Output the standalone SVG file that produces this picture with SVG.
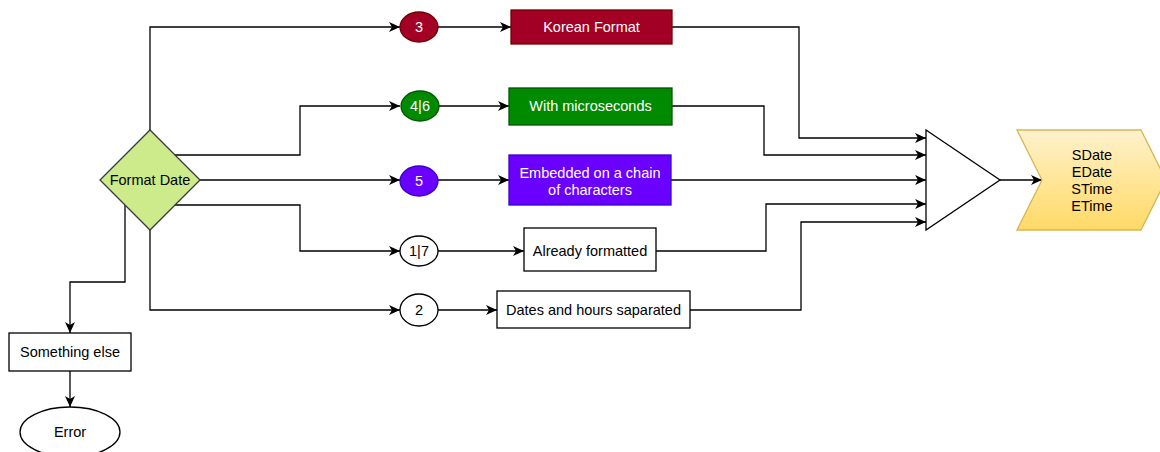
<svg xmlns="http://www.w3.org/2000/svg" width="1160" height="452" viewBox="0 0 1160 452">
<defs>
<marker id="arr" markerUnits="userSpaceOnUse" markerWidth="12" markerHeight="10" refX="11" refY="5" orient="auto">
<path d="M0,0 L11,5 L0,10 L3,5 Z" fill="#000"/>
</marker>
<linearGradient id="yg" x1="0" y1="0" x2="0" y2="1">
<stop offset="0" stop-color="#fff2cc"/>
<stop offset="1" stop-color="#ffd966"/>
</linearGradient>
</defs>
<style>
text{font-family:"Liberation Sans",Arial,sans-serif;font-size:14.5px;text-anchor:middle;fill:#000}
.w{fill:#fff}
.c{stroke:#000;stroke-width:1.3;fill:none;marker-end:url(#arr)}
.plain{fill:#fff;stroke:#000;stroke-width:1.3}
</style>
<rect width="1160" height="452" fill="#fff"/>
<g id="connectors">
<path class="c" d="M150,130 V27 H400"/>
<path class="c" d="M438,27 H511"/>
<path class="c" d="M175,155 H300 V106 H400"/>
<path class="c" d="M439,106 H509"/>
<path class="c" d="M200,180 H400"/>
<path class="c" d="M438,180 H509"/>
<path class="c" d="M175,205 H300 V251 H400"/>
<path class="c" d="M438,251 H524"/>
<path class="c" d="M150,230 V310 H400"/>
<path class="c" d="M438,310 H497"/>
<path class="c" d="M125,205 V282 H70 V333"/>
<path class="c" d="M70,371 V407"/>
<path class="c" d="M672,27 H799 V138 H926"/>
<path class="c" d="M672,106 H764 V155 H926"/>
<path class="c" d="M671,180 H926"/>
<path class="c" d="M656,251 H766 V204 H926"/>
<path class="c" d="M690,310 H801 V222 H926"/>
<path class="c" d="M1000,180 H1042"/>
</g>
<g id="format-date">
<polygon points="150,130 200,180 150,230 100,180" fill="#cdeb8b" stroke="#36393d" stroke-width="1.3"/>
<text x="150" y="185">Format Date</text>
</g>
<g id="c3">
<ellipse cx="419" cy="27" rx="19" ry="15" fill="#a20025" stroke="#6f0000" stroke-width="1.3"/>
<text class="w" x="419" y="32">3</text>
</g>
<g id="korean">
<rect x="511" y="10" width="161" height="34" fill="#a20025" stroke="#6f0000" stroke-width="1.3"/>
<text class="w" x="591.5" y="32">Korean Format</text>
</g>
<g id="c46">
<ellipse cx="420" cy="106" rx="19" ry="15" fill="#008a00" stroke="#005700" stroke-width="1.3"/>
<text class="w" x="420" y="111">4|6</text>
</g>
<g id="micro">
<rect x="509" y="88" width="163" height="37" fill="#008a00" stroke="#005700" stroke-width="1.3"/>
<text class="w" x="590.5" y="111">With microseconds</text>
</g>
<g id="c5">
<ellipse cx="419" cy="181" rx="19" ry="15" fill="#6a00ff" stroke="#3700cc" stroke-width="1.3"/>
<text class="w" x="419" y="186">5</text>
</g>
<g id="embedded">
<rect x="509" y="155" width="162" height="50" fill="#6a00ff" stroke="#3700cc" stroke-width="1.3"/>
<text class="w" x="590" y="178">Embedded on a chain</text>
<text class="w" x="590" y="195">of characters</text>
</g>
<g id="c17">
<ellipse class="plain" cx="419" cy="251" rx="19" ry="15"/>
<text x="419" y="256">1|7</text>
</g>
<g id="already">
<rect class="plain" x="524" y="228" width="132" height="43"/>
<text x="590" y="256">Already formatted</text>
</g>
<g id="c2">
<ellipse class="plain" cx="419" cy="310" rx="19" ry="16"/>
<text x="419" y="315">2</text>
</g>
<g id="dates">
<rect class="plain" x="497" y="291" width="193" height="37"/>
<text x="593.5" y="315">Dates and hours saparated</text>
</g>
<g id="something">
<rect class="plain" x="9" y="333" width="122" height="38"/>
<text x="70" y="357">Something else</text>
</g>
<g id="error">
<ellipse class="plain" cx="70" cy="432" rx="50" ry="25"/>
<text x="70" y="437">Error</text>
</g>
<g id="merge">
<polygon class="plain" points="926,130 1000,180 926,230"/>
</g>
<g id="output">
<polygon points="1017,130 1141,130 1166,180 1141,230 1017,230 1042,180" fill="url(#yg)" stroke="#d6b656" stroke-width="1.3"/>
<text x="1092" y="160">SDate</text>
<text x="1092" y="177">EDate</text>
<text x="1092" y="194">STime</text>
<text x="1092" y="211">ETime</text>
</g>
</svg>
